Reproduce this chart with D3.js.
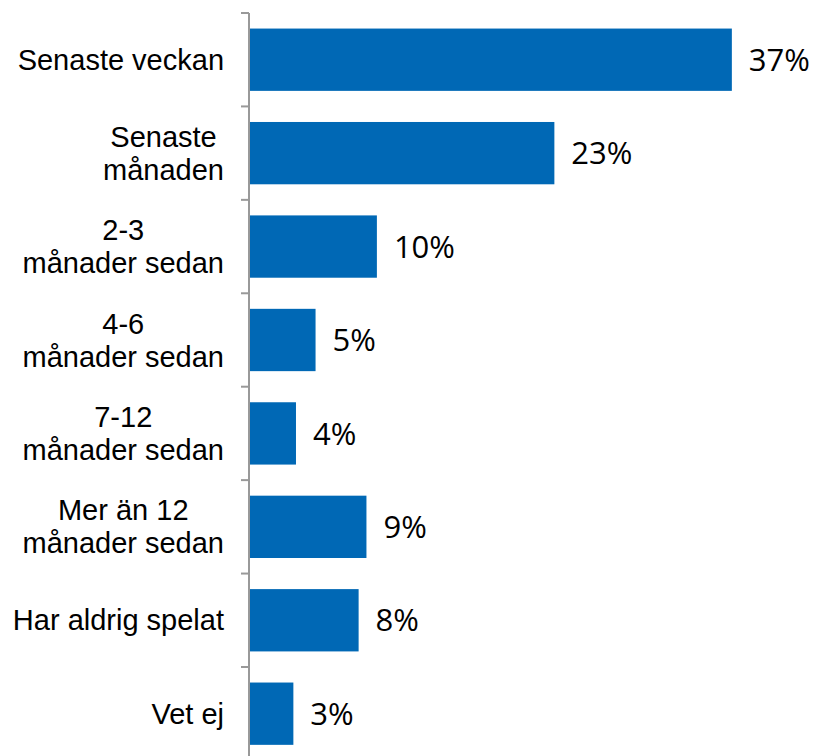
<!DOCTYPE html>
<html lang="sv">
	<head>
		<meta charset="utf-8">
		<title>Senast spelat</title>
		<script src="https://cdn.jsdelivr.net/npm/d3@7"></script>
		<style>
			body { margin: 0; background: #fff; }
			.cat { font-family: "Liberation Sans", Arial, sans-serif; font-size: 29px; fill: #000; }
			.val { font-family: "Open Sans", sans-serif; font-size: 31px; fill: #000; }
		</style>
	</head>
	<body>
		<script>

			//Categories (label lines) and values in percent
			var categories = [
				["Senaste veckan"],
				["Senaste", "månaden"],
				["2-3", "månader sedan"],
				["4-6", "månader sedan"],
				["7-12", "månader sedan"],
				["Mer än 12", "månader sedan"],
				["Har aldrig spelat"],
				["Vet ej"]
			];
			var values = [37.0, 23.4, 9.8, 5.1, 3.6, 9.0, 8.4, 3.4];
			var valueLabels = ["37%", "23%", "10%", "5%", "4%", "9%", "8%", "3%"];

			var w = 815;
			var h = 756;
			var x0 = 249;

			var keys = categories.map(function(d) { return d.join(" "); });

			var svg = d3.select("body").append("svg")
				.attr("width", w)
				.attr("height", h);

			//Scales
			var xScale = d3.scaleLinear()
				.domain([0, 40])
				.range([x0, x0 + 40 * 13.05]);

			var yScale = d3.scaleBand()
				.domain(keys)
				.range([13, 760.4])
				.paddingInner(0.333)
				.paddingOuter(0.1665);

			var step = yScale.step();

			//Bars
			svg.selectAll("rect.bar")
				.data(values)
				.enter().append("rect")
				.attr("class", "bar")
				.attr("x", xScale(0))
				.attr("y", function(d, i) { return yScale(keys[i]); })
				.attr("width", function(d) { return xScale(d) - xScale(0); })
				.attr("height", yScale.bandwidth())
				.attr("fill", "#0068b5");

			//Value labels
			svg.selectAll("text.val")
				.data(values)
				.enter().append("text")
				.attr("class", "val")
				.attr("x", function(d) { return xScale(d) + 17; })
				.attr("y", function(d, i) { return yScale(keys[i]) + yScale.bandwidth() / 2; })
				.attr("dy", "0.36em")
				.text(function(d, i) { return valueLabels[i]; });

			//Axis line and ticks at band edges
			var axis = svg.append("g");
			axis.append("line")
				.attr("x1", x0).attr("x2", x0)
				.attr("y1", 13).attr("y2", h)
				.attr("stroke", "#999")
				.attr("stroke-width", 2);

			axis.selectAll("line.tick")
				.data(d3.range(keys.length + 1))
				.enter().append("line")
				.attr("class", "tick")
				.attr("x1", x0 - 8).attr("x2", x0)
				.attr("y1", function(i) { return 13 + i * step; })
				.attr("y2", function(i) { return 13 + i * step; })
				.attr("stroke", "#999")
				.attr("stroke-width", 2);

			//Category labels, lines centered, block right-aligned
			var lineH = 33;
			categories.forEach(function(lines, i) {
				var g = svg.append("g");
				var cy = yScale(keys[i]) + yScale.bandwidth() / 2;
				var t = g.append("text")
					.attr("class", "cat")
					.attr("text-anchor", "middle");
				lines.forEach(function(s, j) {
					t.append("tspan")
						.attr("x", 0)
						.attr("y", cy + (j - (lines.length - 1) / 2) * lineH)
						.attr("dy", "0.35em")
						.text(s);
				});
				var bw = t.node().getBBox().width;
				t.attr("transform", "translate(" + (224 - bw / 2) + ",0)");
			});

		</script>
	</body>
</html>
